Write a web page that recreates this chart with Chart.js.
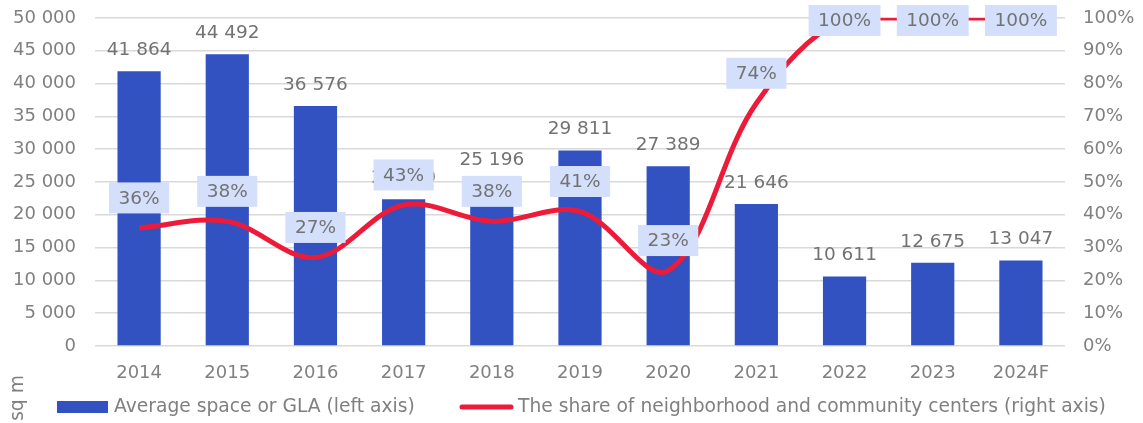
<!DOCTYPE html>
<html>
<head>
<meta charset="utf-8">
<script src="https://cdn.jsdelivr.net/npm/chart.js@4"></script>
<style>
  html, body { margin: 0; padding: 0; background: #fff; }
  #wrap { width: 1143px; height: 423px; position: relative; }
</style>
</head>
<body>
<div id="wrap"><canvas id="c" width="1143" height="423"></canvas></div>
<script>
const categories = ['2014','2015','2016','2017','2018','2019','2020','2021','2022','2023','2024F'];
const avgSpace = [41864, 44492, 36576, 22360, 25196, 29811, 27389, 21646, 10611, 12675, 13047];
const shareNeighborhood = [36, 38, 27, 43, 38, 41, 23, 74, 100, 100, 100];
const leftTicks = [0, 5000, 10000, 15000, 20000, 25000, 30000, 35000, 40000, 45000, 50000];
const rightTicks = [0, 10, 20, 30, 40, 50, 60, 70, 80, 90, 100];
const barLabel = 'Average space or GLA (left axis)';
const lineLabel = 'The share of neighborhood and community centers (right axis)';
const yTitle = 'sq m';

const FONT = "'DejaVu Sans', Verdana, sans-serif";
const TICK_COLOR = '#808080';
const LABEL_COLOR = '#737373';
const BAR_COLOR = '#3152C0';
const LINE_COLOR = '#ED1B3A';
const BOX_COLOR = '#D4DFFB';

function fmt(v) { return String(v).replace(/\B(?=(\d{3})+(?!\d))/g, ' '); }

const labelsPlugin = {
  id: 'labels',
  afterDatasetsDraw(chart) {
    const ctx = chart.ctx;
    ctx.save();
    ctx.font = '18.5px ' + FONT;
    ctx.textAlign = 'center';
    ctx.textBaseline = 'middle';
    const bm = chart.getDatasetMeta(0);
    bm.data.forEach((el, i) => {
      ctx.fillStyle = LABEL_COLOR;
      ctx.fillText(fmt(avgSpace[i]), el.x, el.y - 21);
    });
    const lm = chart.getDatasetMeta(1);
    lm.data.forEach((el, i) => {
      const t = shareNeighborhood[i] + '%';
      const w = ctx.measureText(t).width + 19;
      const h = 31;
      let cy = el.y - 30;
      if (cy - h / 2 < 5) cy = 5 + h / 2;
      ctx.fillStyle = BOX_COLOR;
      ctx.fillRect(el.x - w / 2, cy - h / 2, w, h);
      ctx.fillStyle = LABEL_COLOR;
      ctx.fillText(t, el.x, cy + 1);
    });
    ctx.restore();
  },
  afterDraw(chart) {
    const ctx = chart.ctx;
    ctx.save();
    ctx.font = '18.7px ' + FONT;
    ctx.textBaseline = 'middle';
    ctx.textAlign = 'left';
    const ly = 407;
    ctx.fillStyle = BAR_COLOR;
    ctx.fillRect(57, ly - 6, 51, 12);
    ctx.fillStyle = TICK_COLOR;
    ctx.fillText(barLabel, 114, ly);
    ctx.strokeStyle = LINE_COLOR;
    ctx.lineWidth = 5;
    ctx.lineCap = 'round';
    ctx.beginPath();
    ctx.moveTo(462, ly);
    ctx.lineTo(511, ly);
    ctx.stroke();
    ctx.fillText(lineLabel, 518, ly);
    ctx.translate(18, 398);
    ctx.rotate(-Math.PI / 2);
    ctx.textAlign = 'center';
    ctx.fillText(yTitle, 0, 0);
    ctx.restore();
  }
};

function noVPad(s) { s.paddingTop = 0; s.paddingBottom = 0; }

new Chart(document.getElementById('c'), {
  data: {
    labels: categories,
    datasets: [
      {
        type: 'bar',
        label: barLabel,
        data: avgSpace,
        backgroundColor: BAR_COLOR,
        borderWidth: 0,
        yAxisID: 'y',
        barPercentage: 0.49,
        categoryPercentage: 1,
        order: 2
      },
      {
        type: 'line',
        label: lineLabel,
        data: shareNeighborhood,
        borderColor: LINE_COLOR,
        borderWidth: 5,
        pointRadius: 0,
        tension: 0.35,
        fill: false,
        yAxisID: 'y1',
        order: 1
      }
    ]
  },
  options: {
    responsive: false,
    animation: false,
    events: [],
    layout: { padding: { top: 18, left: 0, right: 0, bottom: 0 } },
    plugins: { legend: { display: false }, tooltip: { enabled: false } },
    scales: {
      x: {
        grid: { display: false },
        border: { display: false },
        ticks: { color: TICK_COLOR, font: { family: FONT, size: 18 }, padding: 9, maxRotation: 0, autoSkip: false },
        afterFit(s) { s.height = 77; s.paddingLeft = 0; s.paddingRight = 0; }
      },
      y: {
        position: 'left',
        min: 0, max: 50000,
        afterBuildTicks(s) { s.ticks = leftTicks.map(v => ({ value: v })); },
        grid: { color: '#D9D9D9', lineWidth: 1.5, drawTicks: false },
        border: { display: false },
        ticks: { color: TICK_COLOR, font: { family: FONT, size: 18 }, padding: 19, callback: v => fmt(v) },
        afterFit(s) { s.width = 95; noVPad(s); }
      },
      y1: {
        position: 'right',
        min: 0, max: 100,
        afterBuildTicks(s) { s.ticks = rightTicks.map(v => ({ value: v })); },
        grid: { display: false, drawTicks: false },
        border: { display: false },
        ticks: { color: TICK_COLOR, font: { family: FONT, size: 18 }, padding: 18, callback: v => v + '%' },
        afterFit(s) { s.width = 78; noVPad(s); }
      }
    }
  },
  plugins: [labelsPlugin]
});
</script>
</body>
</html>
